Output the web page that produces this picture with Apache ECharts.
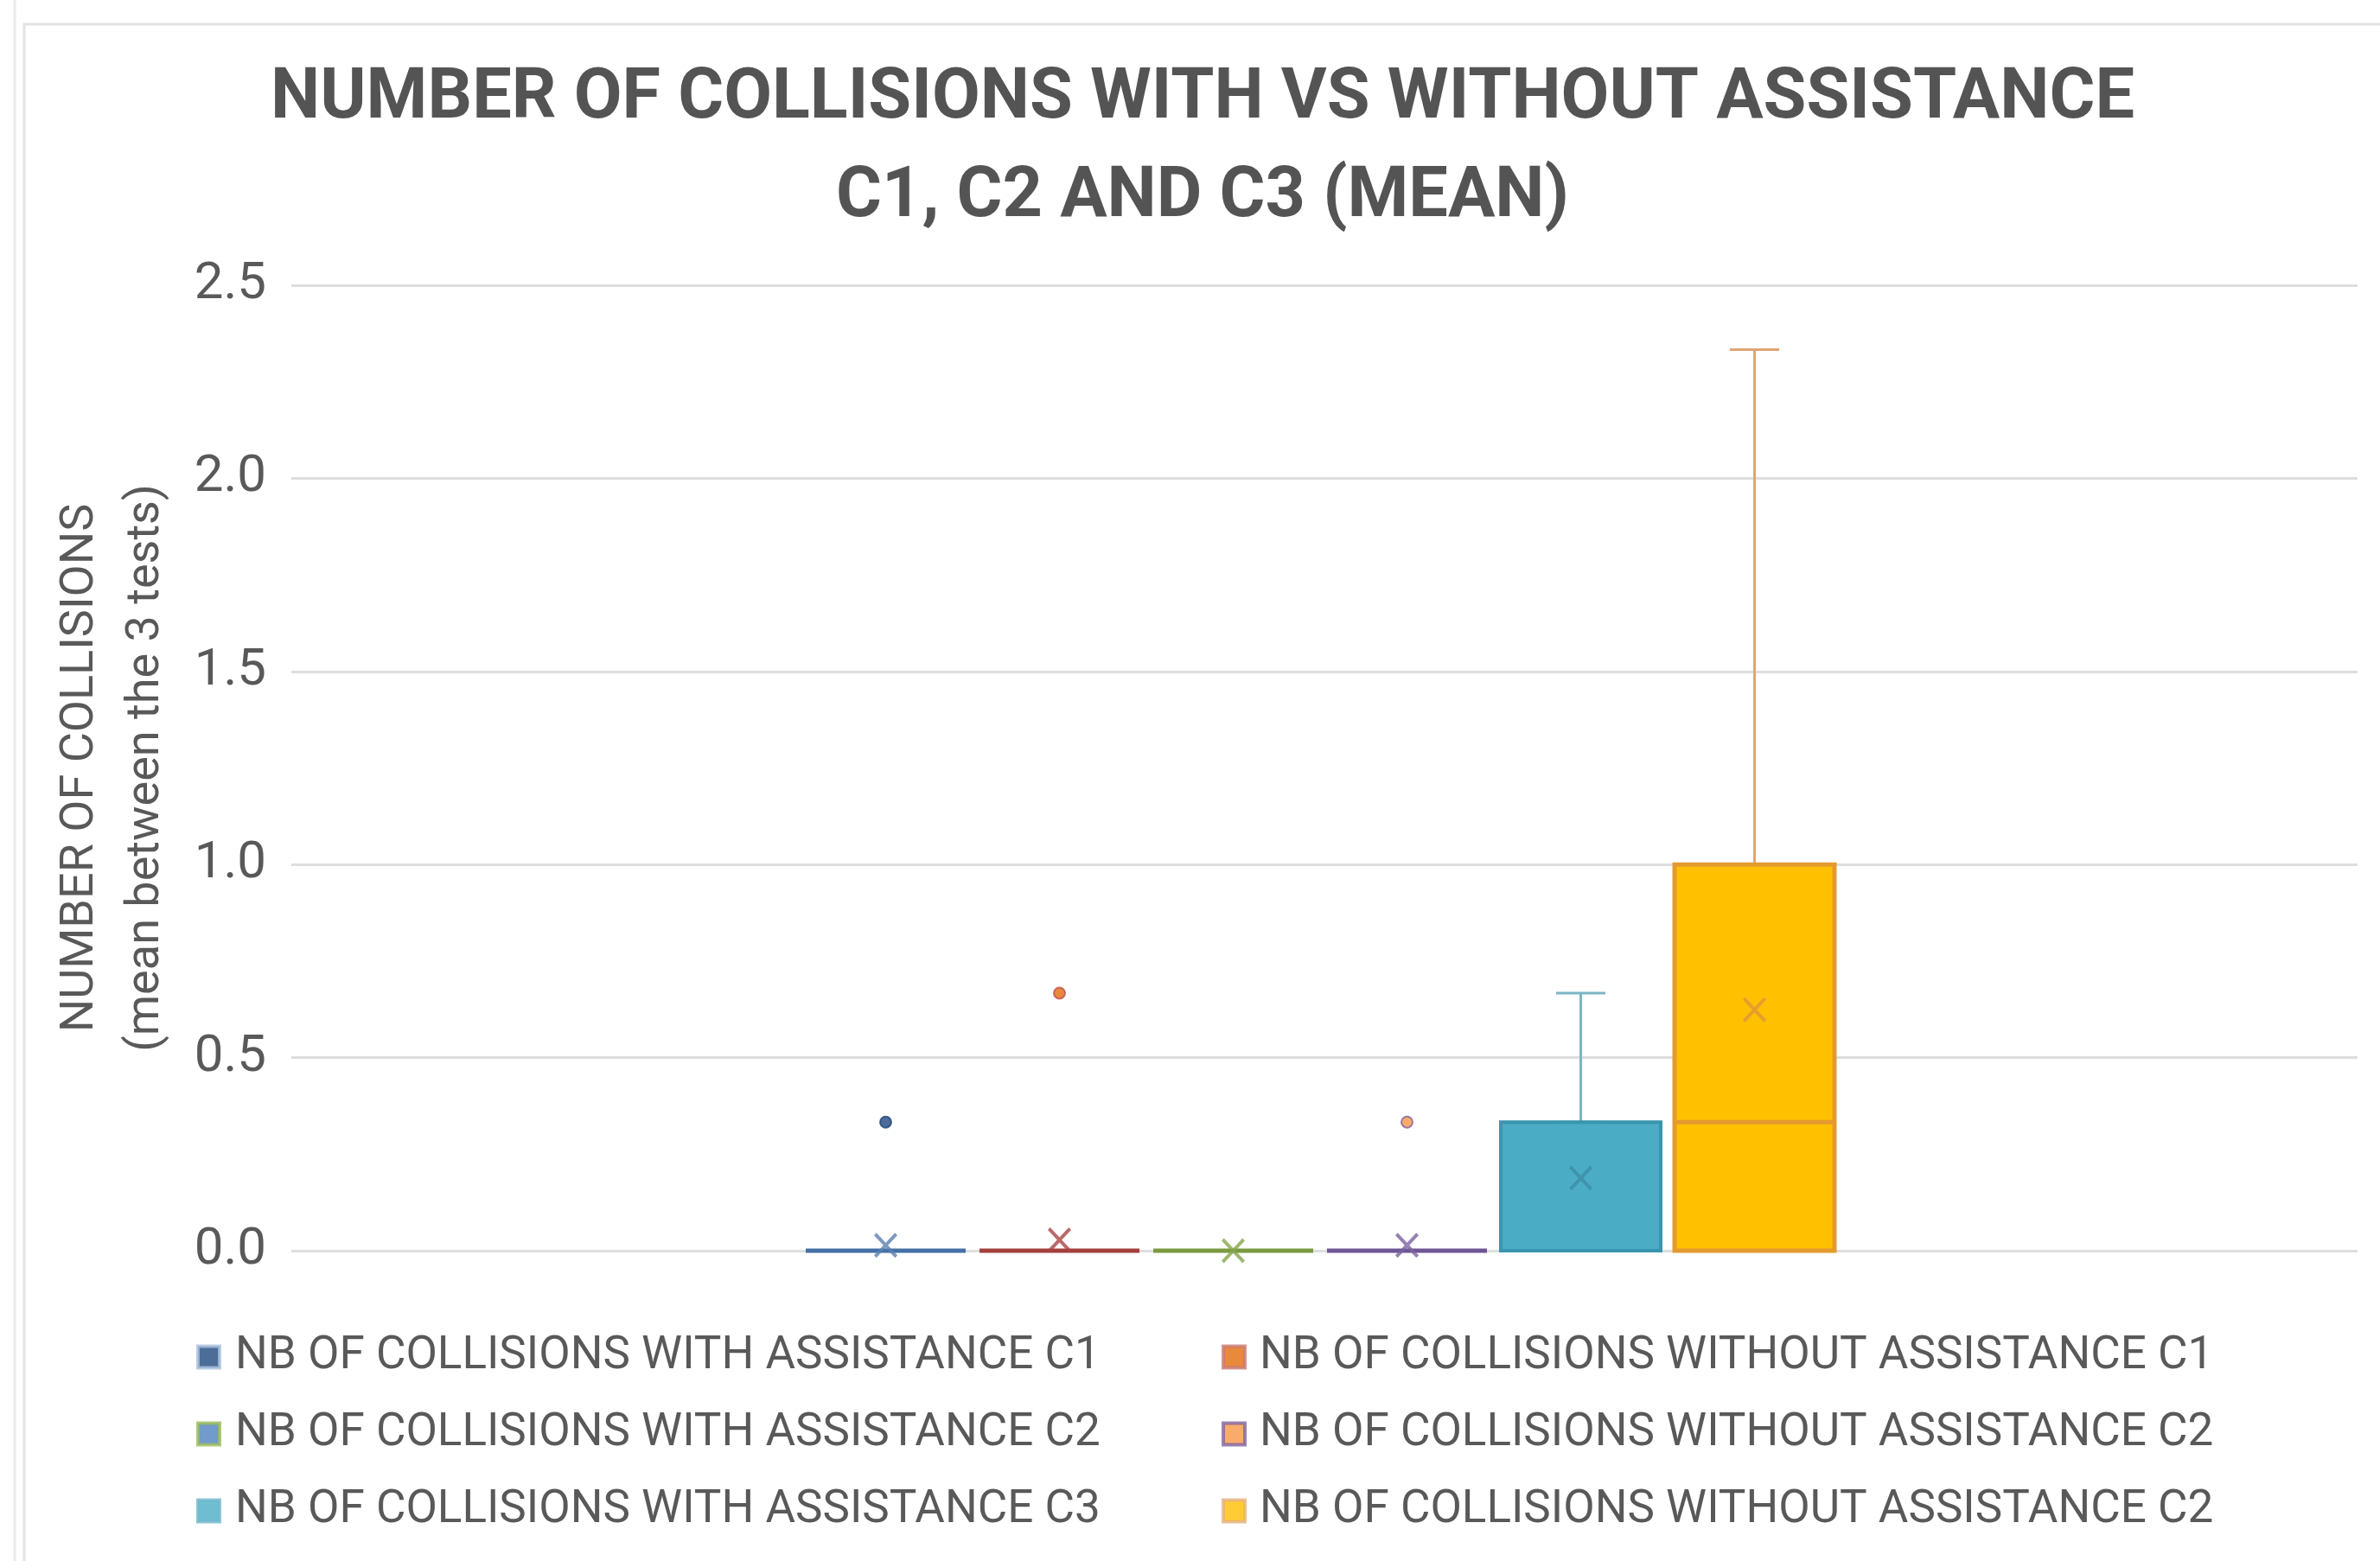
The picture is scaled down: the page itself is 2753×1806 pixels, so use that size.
<!DOCTYPE html>
<html>
<head>
<meta charset="utf-8">
<script src="https://cdn.jsdelivr.net/npm/echarts@6/dist/echarts.min.js"></script>
<style>
html,body{margin:0;padding:0;background:#fff;}
#chart{width:2753px;height:1806px;}
</style>
</head>
<body>
<div id="chart"></div>
<script>
// ---------------- data ----------------
// internal (unique) series keys
const seriesNames = [
  'NB OF COLLISIONS WITH ASSISTANCE C1',
  'NB OF COLLISIONS WITHOUT ASSISTANCE C1',
  'NB OF COLLISIONS WITH ASSISTANCE C2',
  'NB OF COLLISIONS WITHOUT ASSISTANCE C2',
  'NB OF COLLISIONS WITH ASSISTANCE C3',
  'NB OF COLLISIONS WITHOUT ASSISTANCE C3'
];
// labels exactly as printed in the legend of the original chart
const legendLabels = [
  'NB OF COLLISIONS WITH ASSISTANCE C1',
  'NB OF COLLISIONS WITHOUT ASSISTANCE C1',
  'NB OF COLLISIONS WITH ASSISTANCE C2',
  'NB OF COLLISIONS WITHOUT ASSISTANCE C2',
  'NB OF COLLISIONS WITH ASSISTANCE C3',
  'NB OF COLLISIONS WITHOUT ASSISTANCE C2'
];
const boxKeys = ['with C1', 'without C1', 'with C2', 'without C2', 'with C3', 'without C3'];
const minValues    = [0, 0, 0, 0, 0, 0];
const q1Values     = [0, 0, 0, 0, 0, 0];
const medianValues = [0, 0, 0, 0, 0, 0.333];
const q3Values     = [0, 0, 0, 0, 0.333, 1.0];
const maxValues    = [0, 0, 0, 0, 0.667, 2.333];
const meanValues   = [0.014, 0.028, 0, 0.014, 0.188, 0.624];
const outlierValues = [[0.333], [0.667], [], [0.333], [], []];

// ---------------- styles ----------------
const boxFill     = ['#1F497D', '#E46C0A', '#4F81BD', '#F79646', '#4BACC6', '#FFC000'];
const boxBorder   = ['#4470A6', '#A33F3D', '#7A9A40', '#6E5593', '#3A95AE', '#E39A2E'];
const boxBorderW  = [5, 5, 5, 5, 4, 5];
const whiskerCol  = ['#4470A6', '#A33F3D', '#7A9A40', '#6E5593', '#7BB6C6', '#DFA673'];
const meanCol     = ['#5B80B2', '#A84544', '#86A54E', '#7A62A0', '#3C8EA5', '#E0953A'];
const dotBorder   = ['#1F497D', '#C0504D', '#9BBB59', '#8064A2', '#4BACC6', '#F79646'];
const legendBorder = ['#A9C0DD', '#C97B78', '#9BBB59', '#8064A2', '#6FB8CC', '#E6B27E'];
const textColor = '#595959';
const FONT = 'Roboto';
const X_PATH = 'path://M0,1L1,0L5,4L9,0L10,1L6,5L10,9L9,10L5,6L1,10L0,9L4,5Z';

const chart = echarts.init(document.getElementById('chart'), null, {renderer: 'canvas'});

const whiskerData = boxKeys.map((k, i) => ({
  value: [minValues[i], q3Values[i], q3Values[i], q3Values[i], maxValues[i]],
  itemStyle: {color: whiskerCol[i], borderColor: whiskerCol[i], borderWidth: 3}
}));
const boxData = boxKeys.map((k, i) => ({
  value: [q1Values[i], q1Values[i], medianValues[i], q3Values[i], q3Values[i]],
  itemStyle: {color: boxFill[i], borderColor: boxBorder[i], borderWidth: boxBorderW[i]}
}));

const pointSeries = seriesNames.map((name, i) => ({
  name: name,
  type: 'scatter',
  xAxisIndex: 1,
  yAxisIndex: 1,
  z: 5,
  itemStyle: {color: boxFill[i]},
  data: [
    {value: [i, meanValues[i]], symbol: X_PATH, symbolSize: [27, 29], itemStyle: {color: meanCol[i]}}
  ].concat(outlierValues[i].map(v => ({
    value: [i, v], symbol: 'circle', symbolSize: 13,
    itemStyle: {color: boxFill[i], borderColor: dotBorder[i], borderWidth: 2}
  })))
}));

function legendItems(idxs) {
  return idxs.map(i => ({
    name: seriesNames[i],
    icon: 'rect',
    itemStyle: {color: boxFill[i], borderColor: legendBorder[i], borderWidth: 4}
  }));
}
const legendFormatter = name => legendLabels[seriesNames.indexOf(name)];
const legendCommon = {
  orient: 'vertical',
  top: 1535,
  itemWidth: 25,
  itemHeight: 25,
  itemGap: 29,
  selectedMode: false,
  formatter: legendFormatter
};

const option = {
  backgroundColor: '#ffffff',
  animation: false,
  title: {
    text: 'NUMBER OF COLLISIONS WITH VS WITHOUT ASSISTANCE\nC1, C2 AND C3 (MEAN)',
    left: 1391,
    textAlign: 'center',
    top: 59,
    padding: 0,
    textStyle: {fontFamily: FONT, fontWeight: 'bold', fontSize: 81, lineHeight: 114, color: '#545454'}
  },
  graphic: [
    {type: 'rect', shape: {x: 28, y: 28, width: 2800, height: 1900}, style: {fill: 'none', stroke: '#e3e3e3', lineWidth: 3}, silent: true, z: -10},
    {type: 'line', shape: {x1: 17, y1: 0, x2: 17, y2: 1806}, style: {stroke: '#ececec', lineWidth: 3}, silent: true, z: -10}
  ],
  legend: [
    Object.assign({}, legendCommon, {
      left: 222, data: legendItems([0, 2, 4]),
      textStyle: {fontFamily: FONT, fontSize: 53, lineHeight: 60, color: textColor, padding: [0, 0, 0, 13]}
    }),
    Object.assign({}, legendCommon, {
      left: 1408, data: legendItems([1, 3, 5]),
      textStyle: {fontFamily: FONT, fontSize: 53, lineHeight: 60, color: textColor, padding: [0, 0, 0, 12]}
    })
  ],
  grid: [
    {left: 337, right: 26, top: 330, bottom: 359, containLabel: false},
    {left: 924, width: 1206, top: 330, bottom: 359, containLabel: false}
  ],
  xAxis: [
    {type: 'category', gridIndex: 0, data: [''], show: false},
    {type: 'category', gridIndex: 1, data: boxKeys, show: false},
    {type: 'category', gridIndex: 1, data: boxKeys, show: false, position: 'top'}
  ],
  yAxis: [
    {
      type: 'value', gridIndex: 0, min: 0, max: 2.5, interval: 0.5,
      axisLine: {show: false}, axisTick: {show: false},
      axisLabel: {fontFamily: FONT, fontSize: 60, color: textColor, margin: 29, formatter: v => v.toFixed(1)},
      splitLine: {lineStyle: {color: '#dedede', width: 3}},
      name: 'NUMBER OF COLLISIONS\n(mean between the 3 tests)',
      nameLocation: 'middle',
      nameRotate: 90,
      nameGap: 130,
      nameTextStyle: {fontFamily: FONT, fontSize: 54, lineHeight: 76, color: textColor, align: 'center'}
    },
    {type: 'value', gridIndex: 1, min: 0, max: 2.5, interval: 0.5, show: false, splitLine: {show: false}}
  ],
  series: [
    {
      name: 'whiskers', type: 'boxplot', xAxisIndex: 2, yAxisIndex: 1, z: 2,
      boxWidth: [57, 57], silent: true, data: whiskerData
    },
    {
      name: 'boxes', type: 'boxplot', xAxisIndex: 1, yAxisIndex: 1, z: 3,
      boxWidth: [185, 185], silent: true, data: boxData
    }
  ].concat(pointSeries)
};
chart.setOption(option);
</script>
</body>
</html>
